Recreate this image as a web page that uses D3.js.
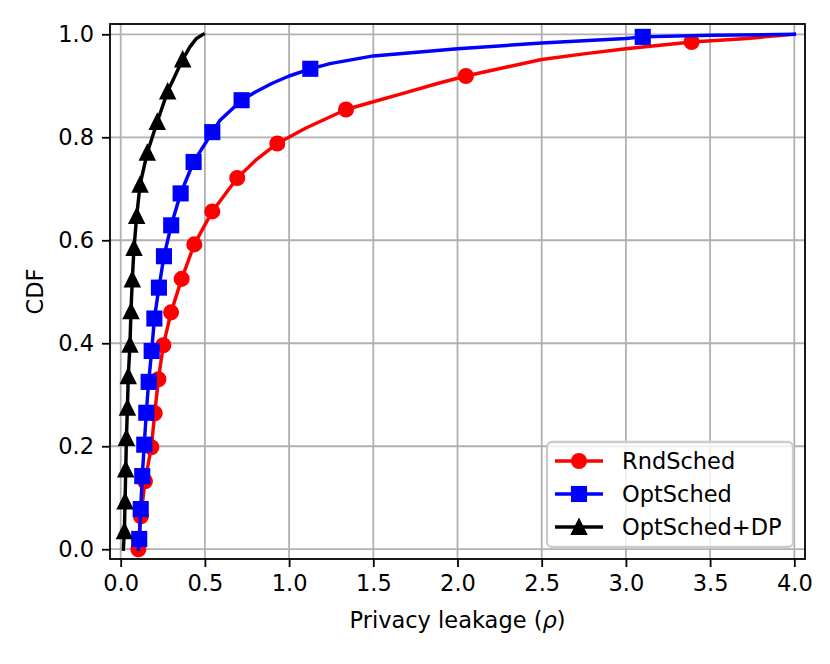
<!DOCTYPE html>
<html>
<head>
<meta charset="utf-8">
<script src="https://cdn.jsdelivr.net/npm/d3@7"></script>
<style>
  body { margin: 0; background: #fff; }
  text { font-family: "DejaVu Sans", sans-serif; }
</style>
</head>
<body>
<div id="chart"></div>
<script>
// CDF curves (leakage, cumulative share)
const rndX = [0.105, 0.12, 0.144, 0.182, 0.202, 0.224, 0.253, 0.299, 0.362, 0.437, 0.544, 0.692, 0.8, 0.93, 1.1, 1.338, 1.5, 1.64, 1.876, 2.05, 2.3, 2.5, 2.75, 3.0, 3.39, 3.72, 4.0];
const rndY = [0.0, 0.064, 0.132, 0.198, 0.264, 0.33, 0.396, 0.46, 0.525, 0.592, 0.656, 0.721, 0.755, 0.788, 0.818, 0.854, 0.869, 0.882, 0.904, 0.919, 0.937, 0.951, 0.962, 0.972, 0.985, 0.992, 1.0];
const optX = [0.105, 0.11, 0.119, 0.128, 0.14, 0.152, 0.166, 0.184, 0.2, 0.227, 0.257, 0.30, 0.356, 0.433, 0.544, 0.59, 0.718, 0.8, 0.9, 1.0, 1.126, 1.243, 1.5, 2.0, 2.5, 3.0, 3.1, 3.5, 4.0];
const optY = [0.0, 0.02, 0.078, 0.142, 0.203, 0.265, 0.325, 0.385, 0.448, 0.508, 0.569, 0.629, 0.691, 0.752, 0.81, 0.833, 0.872, 0.888, 0.905, 0.919, 0.933, 0.943, 0.958, 0.972, 0.983, 0.992, 0.995, 0.998, 1.0];
const dpX = [0.016, 0.022, 0.026, 0.03, 0.034, 0.04, 0.045, 0.055, 0.061, 0.069, 0.079, 0.095, 0.115, 0.158, 0.217, 0.279, 0.368, 0.41, 0.45, 0.49];
const dpY = [0.0, 0.035, 0.093, 0.155, 0.216, 0.275, 0.336, 0.397, 0.462, 0.524, 0.585, 0.647, 0.708, 0.77, 0.83, 0.889, 0.951, 0.975, 0.992, 1.0];

// marker positions
const rndMarkX = [0.105, 0.12, 0.144, 0.182, 0.202, 0.224, 0.253, 0.299, 0.362, 0.437, 0.544, 0.692, 0.93, 1.338, 2.05, 3.39];
const rndMarkY = [0.0, 0.064, 0.132, 0.198, 0.264, 0.33, 0.396, 0.46, 0.525, 0.592, 0.656, 0.721, 0.788, 0.854, 0.919, 0.985];
const optMarkX = [0.11, 0.119, 0.128, 0.14, 0.152, 0.166, 0.184, 0.2, 0.227, 0.257, 0.30, 0.356, 0.433, 0.544, 0.718, 1.126, 3.1];
const optMarkY = [0.02, 0.078, 0.142, 0.203, 0.265, 0.325, 0.385, 0.448, 0.508, 0.569, 0.629, 0.691, 0.752, 0.81, 0.872, 0.933, 0.995];
const dpMarkX = [0.022, 0.026, 0.03, 0.034, 0.04, 0.045, 0.055, 0.061, 0.069, 0.079, 0.095, 0.115, 0.158, 0.217, 0.279, 0.368];
const dpMarkY = [0.035, 0.093, 0.155, 0.216, 0.275, 0.336, 0.397, 0.462, 0.524, 0.585, 0.647, 0.708, 0.77, 0.83, 0.889, 0.951];

const seriesNames = ["RndSched", "OptSched", "OptSched+DP"];
const xTicks = [0.0, 0.5, 1.0, 1.5, 2.0, 2.5, 3.0, 3.5, 4.0];
const yTicks = [0.0, 0.2, 0.4, 0.6, 0.8, 1.0];

const series = [
    {name: seriesNames[0], color: "#ff0000", marker: "circle", xs: rndX, ys: rndY, mx: rndMarkX, my: rndMarkY},
    {name: seriesNames[1], color: "#0000ff", marker: "square", xs: optX, ys: optY, mx: optMarkX, my: optMarkY},
    {name: seriesNames[2], color: "#000000", marker: "triangle", xs: dpX, ys: dpY, mx: dpMarkX, my: dpMarkY}
];

const W = 830, H = 664;
const margin = {top: 24, right: 25, bottom: 105, left: 110},
      width = W - margin.left - margin.right,
      height = H - margin.top - margin.bottom;

const fs = 22.5;
const ms = 6.9; // half marker size

const svg = d3.select("#chart").append("svg")
    .attr("width", W)
    .attr("height", H);
svg.append("rect").attr("width", W).attr("height", H).attr("fill", "#fff");

const g = svg.append("g")
    .attr("transform", `translate(${margin.left}, ${margin.top})`);

const x = d3.scaleLinear().domain([-0.0635, 4.0635]).range([0, width]);
const y = d3.scaleLinear().domain([-0.019, 1.02]).range([height, 0]);

g.append("clipPath").attr("id", "clip")
    .append("rect").attr("width", width).attr("height", height);

// grid
g.append("g").selectAll("line")
    .data(xTicks).enter().append("line")
    .attr("x1", d => x(d)).attr("x2", d => x(d))
    .attr("y1", 0).attr("y2", height)
    .attr("stroke", "#b0b0b0").attr("stroke-width", 1.8);
g.append("g").selectAll("line")
    .data(yTicks).enter().append("line")
    .attr("y1", d => y(d)).attr("y2", d => y(d))
    .attr("x1", 0).attr("x2", width)
    .attr("stroke", "#b0b0b0").attr("stroke-width", 1.8);

function drawMarker(sel, type, color) {
    if (type === "circle") {
        sel.append("circle").attr("r", ms).attr("fill", color).attr("stroke", color).attr("stroke-width", 2.3);
    } else if (type === "square") {
        sel.append("rect").attr("x", -ms).attr("y", -ms).attr("width", 2 * ms).attr("height", 2 * ms)
            .attr("fill", color).attr("stroke", color).attr("stroke-width", 2.3);
    } else {
        sel.append("path").attr("d", `M0,${-ms}L${-ms},${ms}L${ms},${ms}Z`)
            .attr("fill", color).attr("stroke", color).attr("stroke-width", 2.3)
            .attr("stroke-linejoin", "miter");
    }
}

const line = d3.line().x(d => x(d[0])).y(d => y(d[1]));
const plot = g.append("g").attr("clip-path", "url(#clip)");

series.forEach(s => {
    plot.append("path")
        .datum(d3.zip(s.xs, s.ys))
        .attr("d", line)
        .attr("fill", "none")
        .attr("stroke", s.color)
        .attr("stroke-width", 3.45)
        .attr("stroke-linejoin", "round")
        .attr("stroke-linecap", "square");
    plot.append("g").selectAll("g")
        .data(d3.zip(s.mx, s.my)).enter().append("g")
        .attr("transform", d => `translate(${x(d[0])}, ${y(d[1])})`)
        .each(function() { drawMarker(d3.select(this), s.marker, s.color); });
});

// axes
const xAxis = g.append("g")
    .attr("transform", `translate(0, ${height})`)
    .call(d3.axisBottom(x).tickValues(xTicks).tickFormat(d3.format(".1f")).tickSize(8).tickPadding(8).tickSizeOuter(0));
const yAxis = g.append("g")
    .call(d3.axisLeft(y).tickValues(yTicks).tickFormat(d3.format(".1f")).tickSize(8).tickPadding(8).tickSizeOuter(0));
[xAxis, yAxis].forEach(a => {
    a.select(".domain").remove();
    a.selectAll(".tick line").attr("stroke", "#000").attr("stroke-width", 1.8);
    a.selectAll(".tick text").attr("fill", "#000").style("font-size", fs + "px")
        .style("font-family", "'DejaVu Sans', sans-serif");
});
xAxis.selectAll(".tick text").attr("dy", "0.71em");

// spines
g.append("rect")
    .attr("width", width).attr("height", height)
    .attr("fill", "none").attr("stroke", "#000").attr("stroke-width", 1.8);

// axis labels
const xl = svg.append("text")
    .attr("x", margin.left + width / 2)
    .attr("y", 628)
    .attr("text-anchor", "middle")
    .style("font-size", fs + "px");
xl.append("tspan").text("Privacy leakage (");
xl.append("tspan").style("font-style", "italic").text("ρ");
xl.append("tspan").text(")");

svg.append("text")
    .attr("transform", `translate(43, ${margin.top + height / 2}) rotate(-90)`)
    .attr("text-anchor", "middle")
    .style("font-size", fs + "px")
    .text("CDF");

// legend
const lg = svg.append("g").attr("transform", "translate(547, 442)");
lg.append("rect")
    .attr("width", 246).attr("height", 105)
    .attr("rx", 5).attr("ry", 5)
    .attr("fill", "#fff").attr("fill-opacity", 0.8)
    .attr("stroke", "#cccccc").attr("stroke-width", 2.3);
series.forEach((s, i) => {
    const row = lg.append("g").attr("transform", `translate(0, ${19 + i * 33})`);
    row.append("line")
        .attr("x1", 8).attr("x2", 56)
        .attr("stroke", s.color).attr("stroke-width", 3.45);
    drawMarker(row.append("g").attr("transform", "translate(32, 0)"), s.marker, s.color);
    row.append("text")
        .attr("x", 75).attr("y", 7.5)
        .style("font-size", fs + "px")
        .text(s.name);
});
</script>
</body>
</html>
